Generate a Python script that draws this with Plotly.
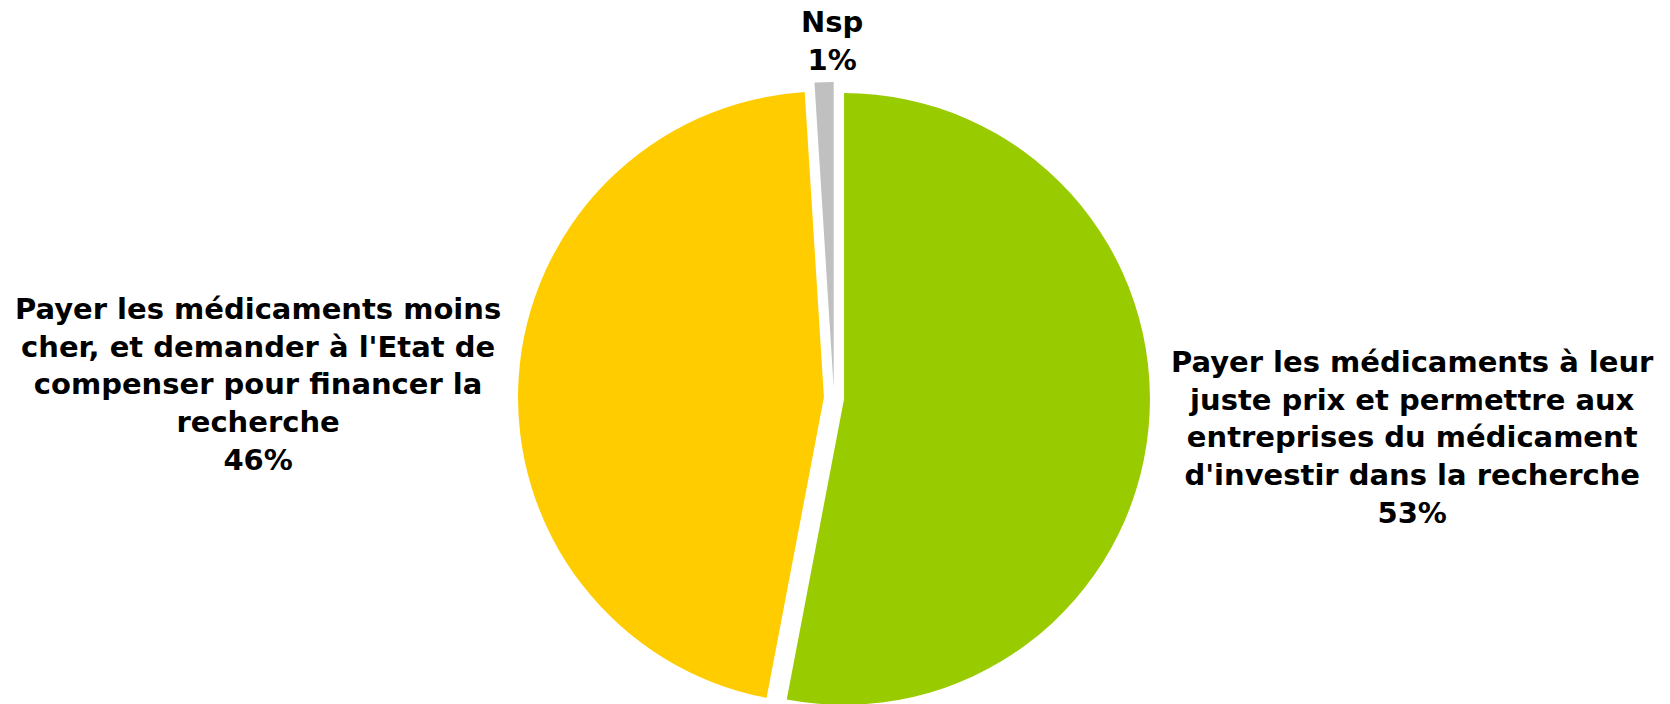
import plotly.graph_objects as go

labels = [
    "Payer les médicaments à leur<br>juste prix et permettre aux<br>entreprises du médicament<br>d'investir dans la recherche",
    "Payer les médicaments moins<br>cher, et demander à l'Etat de<br>compenser pour financer la<br>recherche",
    "Nsp",
]
values = [53, 46, 1]
colors = ["#99CC00", "#FFCC00", "#C0C0C0"]

W, H = 1670, 714
mt, mb, ml, mr = 82, 0, 0, 2

fig = go.Figure(
    go.Pie(
        labels=labels,
        values=values,
        sort=False,
        direction="clockwise",
        rotation=0,
        pull=[0.033, 0.033, 0.033],
        marker=dict(colors=colors, line=dict(color="white", width=0)),
        textinfo="none",
        hoverinfo="label+percent",
        showlegend=False,
    )
)

def px2paper(x, y):
    return (x - ml) / (W - ml - mr), (H - mb - y) / (H - mt - mb)

# label anchor positions (pixels) for each slice
label_pos = [(1412, 437), (258, 384), (832, 41)]
font = dict(family="DejaVu Sans", size=29, color="#000000")
for lab, val, (x, y) in zip(labels, values, label_pos):
    px, py = px2paper(x, y)
    fig.add_annotation(
        x=px, y=py, xref="paper", yref="paper",
        text=f"<b>{lab}<br>{val}%</b>",
        showarrow=False, align="center",
        xanchor="center", yanchor="middle",
        font=font,
    )

fig.update_layout(
    width=W, height=H,
    margin=dict(l=ml, r=mr, t=mt, b=mb),
    paper_bgcolor="white",
    plot_bgcolor="white",
)

fig.write_html(
    "out.html",
    config={"displayModeBar": False},
    post_script="document.body.style.margin='0';document.body.style.overflow='hidden';",
)
